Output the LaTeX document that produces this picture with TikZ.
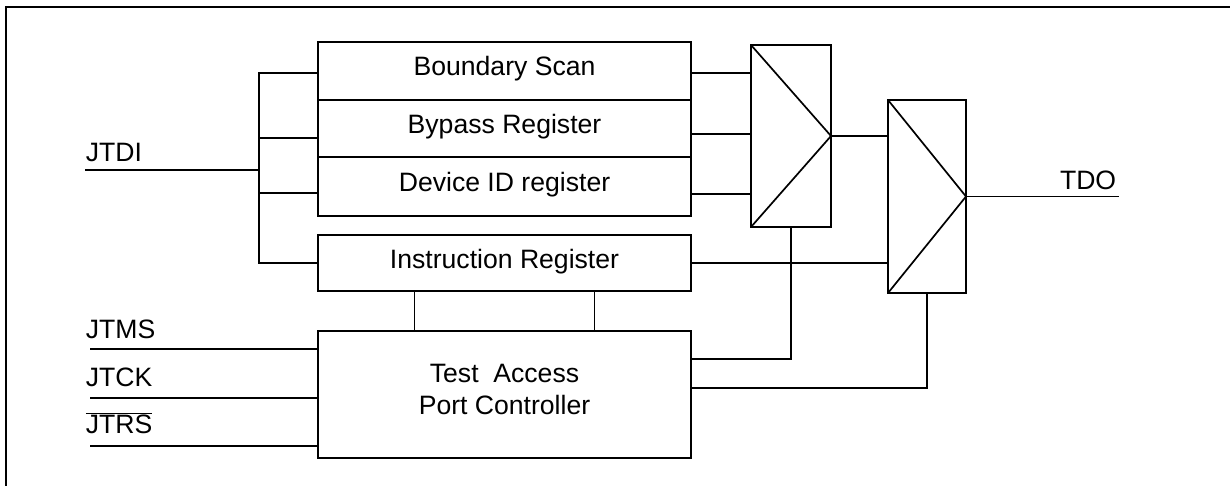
\documentclass[tikz,border=0pt]{standalone}
\usepackage{fontspec}
\setmainfont{Liberation Sans}

\begin{document}
\begin{tikzpicture}[x=1pt, y=-1pt, line width=1.7pt,
    every node/.style={font=\fontsize{26.6}{32}\selectfont},
    reg/.style={rectangle, draw, minimum width=373pt, inner sep=0pt, outer sep=0pt, text height=19pt, text depth=9pt},
    mux/.style={rectangle, draw, inner sep=0pt, outer sep=0pt},
    pin/.style={anchor=base west, inner sep=0pt}]

    \useasboundingbox (0,0) rectangle (1230,486);
    \draw[line width=2.2pt] (1232,7) -- (6,7) -- (6,488);

    % registers
    \node[reg, minimum height=58pt] (bscan) at (504.5,71) {Boundary Scan};
    \node[reg, minimum height=57pt] (bypass) at (504.5,128.5) {Bypass Register};
    \node[reg, minimum height=59pt] (devid) at (504.5,186.5) {Device ID register};
    \node[reg, minimum height=56pt] (ir) at (504.5,263) {Instruction Register};
    \node[reg, minimum height=127pt, align=center, text height=, text depth=11pt] (tap) at (504.5,394.5) {Test\ \ Access\\Port Controller};

    % multiplexers
    \node[mux, minimum width=80pt, minimum height=182pt] (mux1) at (791,136) {};
    \draw (mux1.north west) -- (mux1.east) -- (mux1.south west);
    \node[mux, minimum width=78pt, minimum height=193pt] (mux2) at (927,196.5) {};
    \draw (mux2.north west) -- (mux2.east) -- (mux2.south west);

    % pins
    \coordinate (jtdi) at (85,170);
    \coordinate (jtms) at (90,349);
    \coordinate (jtck) at (90,398);
    \coordinate (jtrs) at (90,446);
    \coordinate (tdo) at (1119,196.5);
    \coordinate (bus) at (259,170);
    \node[pin] (jtdi label) at (85,162) {JTDI};
    \node[pin] (jtms label) at (85,338) {JTMS};
    \node[pin] (jtck label) at (85,386) {JTCK};
    \node[pin] (jtrs label) at (85,433) {$\overline{\mbox{JTRS}}$};
    \node[anchor=base east, inner sep=0pt] (tdo label) at (1117,190) {TDO};

    % input bus
    \draw (jtdi) -- (bus);
    \draw (bscan.west |- 0,73) -| (bus |- ir.west) -- (ir.west);
    \draw (bus |- 0,138) -- (bypass.west |- 0,138);
    \draw (bus |- 0,193) -- (devid.west |- 0,193);
    \foreach \p in {jtms,jtck,jtrs}
        \draw (\p) -- (\p -| tap.west);
    \foreach \dx in {-90,90}
        \draw ([xshift=\dx]ir.south) -- ([xshift=\dx]tap.north);

    % outputs
    \draw (bscan.east |- 0,73) -- (mux1.west |- 0,73);
    \draw (bypass.east |- 0,134) -- (mux1.west |- 0,134);
    \draw (devid.east |- 0,194) -- (mux1.west |- 0,194);
    \draw (mux1.east) -- (mux1.east -| mux2.west);
    \draw (ir.east) -- (ir.east -| mux2.west);
    \draw (mux2.east) -- (tdo);
    \draw (tap.east |- 0,359) -| (mux1.south);
    \draw (tap.east |- 0,388) -| (mux2.south);

\end{tikzpicture}
\end{document}
